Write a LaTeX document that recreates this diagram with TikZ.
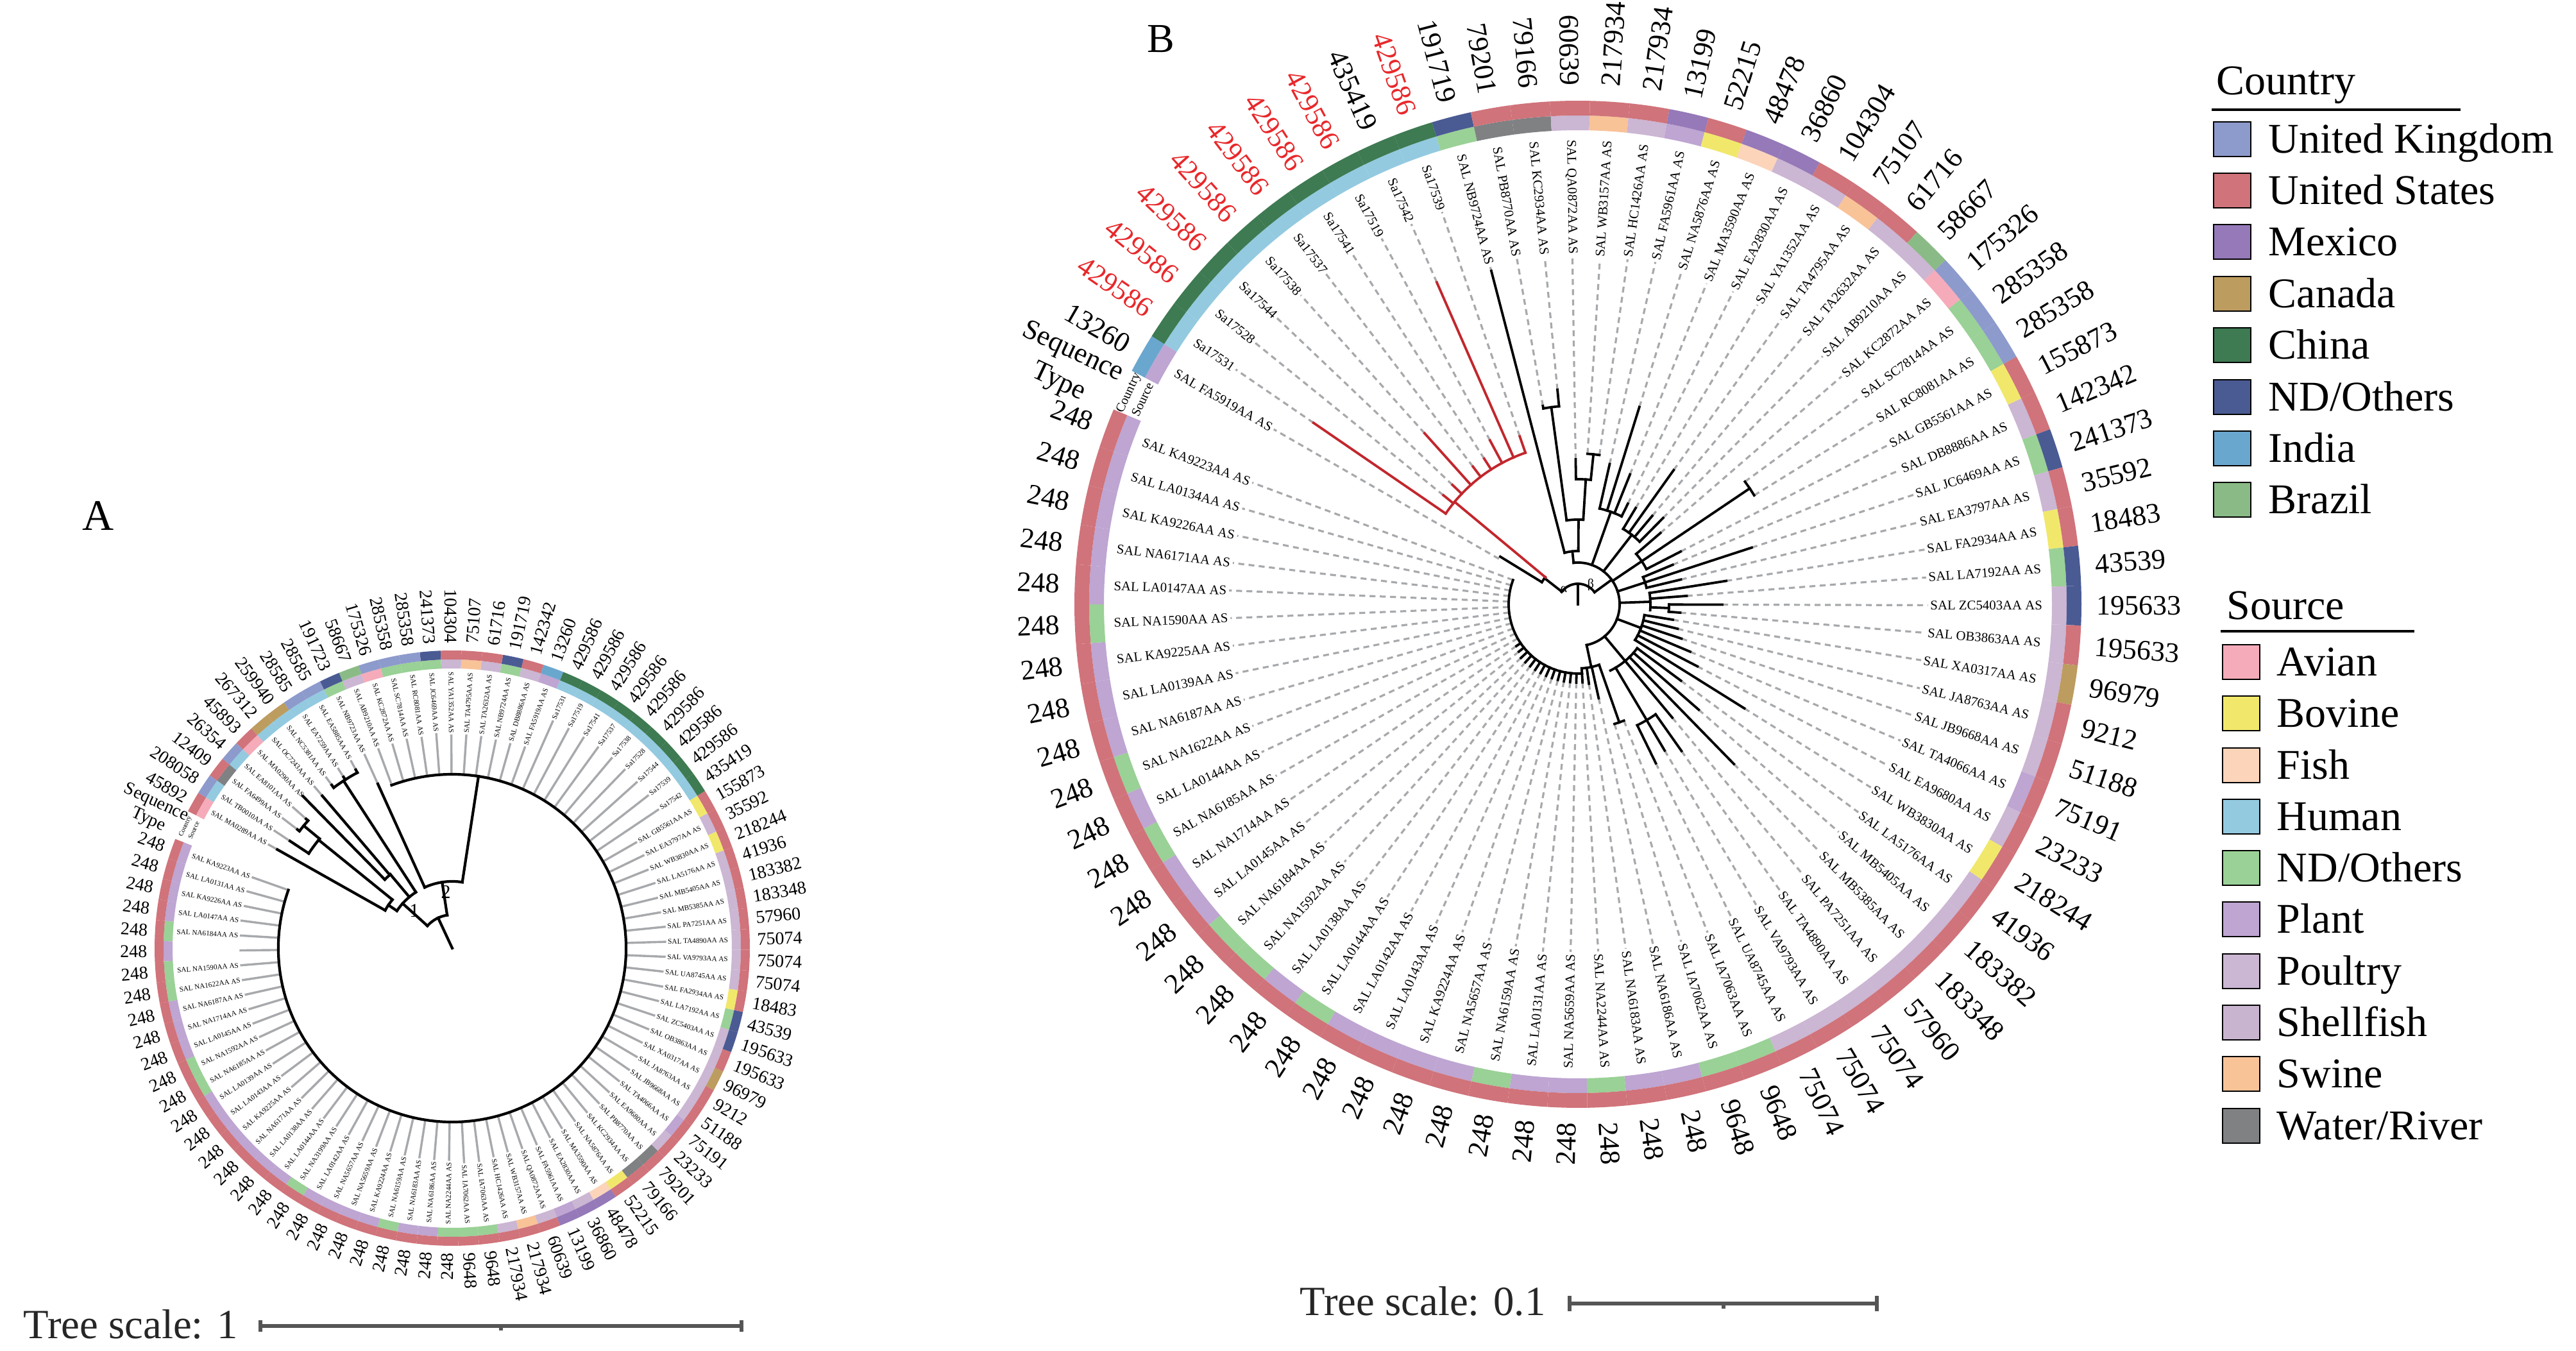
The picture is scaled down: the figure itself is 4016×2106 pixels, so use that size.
\documentclass[tikz,border=0pt]{standalone}
\usepackage{fontspec}
\setmainfont{Liberation Serif}
\definecolor{cUK}{HTML}{8D9ACC}
\definecolor{cUS}{HTML}{D0737A}
\definecolor{cMX}{HTML}{9579B8}
\definecolor{cCA}{HTML}{BD9C5F}
\definecolor{cCN}{HTML}{3E7A52}
\definecolor{cND}{HTML}{4A5A93}
\definecolor{cIN}{HTML}{6AA7CF}
\definecolor{cBR}{HTML}{8ABB86}
\definecolor{sAv}{HTML}{F5ABB9}
\definecolor{sBo}{HTML}{F1E86B}
\definecolor{sFi}{HTML}{FBD4BA}
\definecolor{sHu}{HTML}{93CAE0}
\definecolor{sNd}{HTML}{9AD196}
\definecolor{sPl}{HTML}{BEA5D2}
\definecolor{sPo}{HTML}{CBB6D3}
\definecolor{sSh}{HTML}{C9B4D0}
\definecolor{sSw}{HTML}{F9C398}
\definecolor{sWa}{HTML}{7F8183}
\definecolor{stred}{HTML}{E8282B}
\definecolor{treered}{HTML}{C1272D}
\definecolor{leafgray}{HTML}{A7A9AC}
\definecolor{scalegray}{HTML}{555555}
\newcommand\tbr[4][treeln]{\draw[#1] (#2:#3) -- (#2:#4);}
\newcommand\tarc[4][treeln]{\draw[#1] (#2:#4) arc[start angle=#2, end angle=#3, radius=#4];}
\newcommand\legitem[6]{\node[lbox,fill=#4] (#1) at (#2,#3) {}; \node[legtxt,anchor=west] (#1t) at (#5,#3) {#6};}
\begin{document}
\begin{tikzpicture}[x=0.25pt,y=0.25pt]
\tikzset{
 treeln/.style={line width=0.95pt, line cap=rect, black},
 treelnA/.style={line width=1.05pt, line cap=rect, black},
 redln/.style={line width=0.95pt, line cap=rect, treered},
 dashB/.style={leafgray, line width=0.8pt, dash pattern=on 2.3pt off 1.7pt},
 solidA/.style={leafgray, line width=0.85pt},
 leafB/.style={font=\fontsize{5.2}{6}\selectfont, inner sep=0.8pt},
 leafA/.style={font=\fontsize{2.8}{3.2}\selectfont, inner sep=0.5pt},
 stB/.style={font=\fontsize{11}{13}\selectfont, inner sep=0pt},
 stA/.style={font=\fontsize{7}{8}\selectfont, inner sep=0pt},
 lbox/.style={draw=black, line width=0.7pt, minimum width=14.5pt, minimum height=13.5pt, inner sep=0pt},
 legtxt/.style={font=\fontsize{16.5}{18}\selectfont, text height=10.9pt, text depth=0pt, inner sep=0pt},
 scalebar/.style={scalegray, line width=1.3pt},
 scaletxt/.style={font=\fontsize{16.2}{18}\selectfont, text=black!85, inner sep=0pt}
}
\fill[white] (0,0) rectangle (4016,2106);
\useasboundingbox (0,0) rectangle (4016,2106);

%%%%%%%%%%%%%%%% PANEL B %%%%%%%%%%%%%%%%
\begin{scope}[shift={(2460,1164)}]
\foreach \k/\nm/\st/\stc/\cc/\sc/\tip in {
1/SAL FA5919AA AS/13260/black/cIN/sPl/142,
2/Sa17531/429586/stred/cCN/sHu/500,
3/Sa17528/429586/stred/cCN/sHu/270,
4/Sa17544/429586/stred/cCN/sHu/270,
5/Sa17538/429586/stred/cCN/sHu/358,
6/Sa17537/429586/stred/cCN/sHu/270,
7/Sa17541/429586/stred/cCN/sHu/270,
8/Sa17519/429586/stred/cCN/sHu/290,
9/Sa17542/435419/black/cCN/sHu/548,
10/Sa17539/429586/stred/cCN/sHu/277,
11/SAL NB9724AA AS/191719/black/cND/sNd/537,
12/SAL PB8770AA AS/79201/black/cUS/sWa/314,
13/SAL KC2934AA AS/79166/black/cUS/sWa/336,
14/SAL QA0872AA AS/60639/black/cUS/sPo/226,
15/SAL WB3157AA AS/217934/black/cUS/sSw/235,
16/SAL HC1426AA AS/217934/black/cUS/sPo/235,
17/SAL FA5961AA AS/13199/black/cMX/sPl/224,
18/SAL NA5876AA AS/52215/black/cUS/sBo/322,
19/SAL MA3590AA AS/48478/black/cMX/sFi/218,
20/SAL EA2830AA AS/36860/black/cMX/sPo/175,
21/SAL YA1352AA AS/104304/black/cUS/sPo/175,
22/SAL TA4795AA AS/75107/black/cUS/sSw/257,
23/SAL TA2632AA AS/61716/black/cUS/sPo/180,
24/SAL AB9210AA AS/58667/black/cBR/sPo/189,
25/SAL KC2872AA AS/175326/black/cUK/sAv/170,
26/SAL SC7814AA AS/285358/black/cUK/sNd/323,
27/SAL RC8081AA AS/285358/black/cUK/sNd/323,
28/SAL GB5561AA AS/155873/black/cUS/sBo/180,
29/SAL DB8886AA AS/142342/black/cUS/sPo/160,
30/SAL JC6469AA AS/241373/black/cND/sNd/285,
31/SAL EA3797AA AS/35592/black/cUS/sPo/165,
32/SAL FA2934AA AS/18483/black/cUS/sBo/234,
33/SAL LA7192AA AS/43539/black/cND/sNd/170,
34/SAL ZC5403AA AS/195633/black/cND/sPo/225,
35/SAL OB3863AA AS/195633/black/cUS/sPo/160,
36/SAL XA0317AA AS/96979/black/cCA/sPo/150,
37/SAL JA8763AA AS/9212/black/cUS/sPo/160,
38/SAL JB9668AA AS/51188/black/cUS/sPo/170,
39/SAL TA4066AA AS/75191/black/cUS/sPl/190,
40/SAL EA9680AA AS/23233/black/cUS/sPo/210,
41/SAL WB3830AA AS/218244/black/cUS/sBo/306,
42/SAL LA5176AA AS/41936/black/cUS/sPo/200,
43/SAL MB5405AA AS/183382/black/cUS/sPo/250,
44/SAL MB5385AA AS/183348/black/cUS/sPo/348,
45/SAL PA7251AA AS/57960/black/cUS/sPo/230,
46/SAL TA4890AA AS/75074/black/cUS/sPo/280,
47/SAL VA9793AA AS/75074/black/cUS/sPo/265,
48/SAL UA8745AA AS/75074/black/cUS/sPo/276,
49/SAL IA7063AA AS/9648/black/cUS/sNd/195,
50/SAL IA7062AA AS/9648/black/cUS/sNd/195,
51/SAL NA6186AA AS/248/black/cUS/sPl/150,
52/SAL NA6183AA AS/248/black/cUS/sPl/125,
53/SAL NA2244AA AS/248/black/cUS/sNd/122,
54/SAL NA5659AA AS/248/black/cUS/sPl/122,
55/SAL LA0131AA AS/248/black/cUS/sPl/122,
56/SAL NA6159AA AS/248/black/cUS/sNd/122,
57/SAL NA5657AA AS/248/black/cUS/sPl/122,
58/SAL KA9224AA AS/248/black/cUS/sPl/122,
59/SAL LA0143AA AS/248/black/cUS/sPl/122,
60/SAL LA0142AA AS/248/black/cUS/sPl/122,
61/SAL LA0144AA AS/248/black/cUS/sNd/122,
62/SAL LA0138AA AS/248/black/cUS/sPl/122,
63/SAL NA1592AA AS/248/black/cUS/sNd/122,
64/SAL NA6184AA AS/248/black/cUS/sNd/122,
65/SAL LA0145AA AS/248/black/cUS/sPl/118,
66/SAL NA1714AA AS/248/black/cUS/sPl/116,
67/SAL NA6185AA AS/248/black/cUS/sNd/108,
68/SAL LA0144AA AS/248/black/cUS/sPl/108,
69/SAL NA1622AA AS/248/black/cUS/sNd/108,
70/SAL NA6187AA AS/248/black/cUS/sPl/108,
71/SAL LA0139AA AS/248/black/cUS/sPl/108,
72/SAL KA9225AA AS/248/black/cUS/sPl/108,
73/SAL NA1590AA AS/248/black/cUS/sNd/108,
74/SAL LA0147AA AS/248/black/cUS/sPl/108,
75/SAL NA6171AA AS/248/black/cUS/sPl/108,
76/SAL KA9226AA AS/248/black/cUS/sPl/108,
77/SAL LA0134AA AS/248/black/cUS/sPl/108,
78/SAL KA9223AA AS/248/black/cUS/sPl/108}{
 \pgfmathsetmacro\ang{150.1-(\k-1)*4.553}
 \pgfmathsetmacro\aL{\ang-2.2765}
 \pgfmathsetmacro\aR{\ang+2.2765}
 \fill[\sc] (\aL:739) arc[start angle=\aL, end angle=\aR, radius=739] -- (\aR:762) arc[start angle=\aR, end angle=\aL, radius=762] -- cycle;
 \fill[\cc] (\aL:762) arc[start angle=\aL, end angle=\aR, radius=762] -- (\aR:785) arc[start angle=\aR, end angle=\aL, radius=785] -- cycle;
 \pgfmathtruncatemacro\rside{cos(\ang)>0 ? 1 : 0}
 \ifnum\rside=1
   \node[leafB, anchor=east, rotate=\ang] (BL\k) at (\ang:728) {\nm};
   \draw[dashB] (\ang:\tip) -- (BL\k.west);
   \node[stB, text=\stc, anchor=west, rotate=\ang] (BS\k) at (\ang:808) {\st};
 \else
   \pgfmathsetmacro\rot{\ang+180}
   \node[leafB, anchor=west, rotate=\rot] (BL\k) at (\ang:728) {\nm};
   \draw[dashB] (\ang:\tip) -- (BL\k.east);
   \node[stB, text=\stc, anchor=east, rotate=\rot] (BS\k) at (\ang:808) {\st};
 \fi
}
% gap labels
\node[font=\fontsize{5}{6}\selectfont, inner sep=0pt, rotate=64.8] (BCty) at (154.8:773.5) {Country};
\node[font=\fontsize{5}{6}\selectfont, inner sep=0pt, rotate=64.8] (BSrc) at (154.8:750.5) {Source};
\node[stB, align=center, rotate=334.8] (BSeq) at (155.2:880) {Sequence\\Type};
% root
\tbr{90}{0}{32}
\tarc{36}{143}{32}
\node[font=\fontsize{5}{6}\selectfont, inner sep=0pt] (Balpha) at (-22,23) {α};
\node[font=\fontsize{5}{6}\selectfont, inner sep=0pt] (Bbeta) at (20,30) {β};
% alpha clade
\tbr{142}{32}{66}
\tarc{140.3}{148.5}{66}
\tbr{148.5}{66}{142}
\tbr[redln]{140.3}{66}{250}
\tarc[redln]{109.12}{145.55}{250}
\tbr[redln]{145.55}{250}{500}
\tbr[redln]{140.99}{250}{270}
\tbr[redln]{136.44}{250}{270}
\tbr[redln]{131.89}{250}{358}
\tbr[redln]{127.34}{250}{270}
\tbr[redln]{122.78}{250}{270}
\tbr[redln]{118.23}{250}{290}
\tbr[redln]{113.68}{250}{548}
\tbr[redln]{109.12}{250}{277}
% beta clade
\tbr{36}{32}{65}
\tarc{-78}{96}{65}
% C1
\tbr{96}{65}{83}
\tarc{89.6}{104.57}{83}
\tbr{104.57}{83}{537}
\tbr{89.6}{83}{132}
\tarc{86.4}{97.7}{132}
\tbr{97.7}{132}{310}
\tarc{95.46}{100.02}{310}
\tbr{100.02}{310}{314}
\tbr{95.46}{310}{336}
\tbr{86.4}{132}{195}
\tarc{84.1}{90.91}{195}
\tbr{90.91}{195}{226}
\tbr{84.1}{195}{235}
\tarc{81.81}{86.36}{235}
% C2
\tbr{70.4}{65}{153}
\tarc{63.59}{77.25}{153}
\tbr{77.25}{153}{224}
\tbr{72.70}{153}{322}
\tbr{68.15}{153}{218}
\tbr{63.59}{153}{175}
% C3
\tbr{52.2}{65}{137}
\tarc{45.38}{59.04}{137}
\tbr{59.04}{137}{175}
\tbr{54.49}{137}{257}
\tbr{49.94}{137}{180}
\tbr{45.38}{137}{189}
% C4
\tbr{34}{65}{120}
\tarc{27.17}{40.83}{120}
\tbr{40.83}{120}{170}
\tbr{34}{120}{323}
\tarc{31.72}{36.28}{323}
\tbr{27.17}{120}{180}
% C5
\tbr{18}{65}{110}
\tarc{13.51}{22.62}{110}
\tbr{22.62}{110}{160}
\tbr{18.06}{110}{285}
\tbr{13.51}{110}{165}
% C6
\tbr{2}{65}{113}
\tarc{-4.70}{8.96}{113}
\tbr{8.96}{113}{234}
\tbr{4.41}{113}{170}
\tbr{-2.4}{113}{142}
\tarc{-4.70}{-0.15}{142}
\tbr{-0.15}{142}{225}
\tbr{-4.70}{142}{160}
% C7
\tbr{-20.6}{65}{105}
\tarc{-32.02}{-9.25}{105}
\tbr{-9.25}{105}{150}
\tbr{-13.80}{105}{160}
\tbr{-18.36}{105}{170}
\tbr{-22.91}{105}{190}
\tbr{-27.46}{105}{210}
\tbr{-32.02}{105}{306}
% C8
\tbr{-50.2}{65}{115}
\tarc{-63.89}{-36.57}{115}
\tbr{-36.57}{115}{200}
\tbr{-41.12}{115}{250}
\tbr{-45.68}{115}{348}
\tbr{-50.23}{115}{230}
\tbr{-59.3}{115}{210}
\tarc{-63.89}{-54.78}{210}
\tbr{-54.78}{210}{280}
\tbr{-59.33}{210}{265}
\tbr{-63.89}{210}{276}
% C9 (ST 248 clade)
\tbr{-78}{65}{100}
\tarc{-86.65}{-70.7}{100}
\tbr{-70.7}{100}{195}
\tarc{-72.99}{-68.44}{195}
\tbr{-77.55}{100}{150}
\tbr{-82.10}{100}{125}
\tbr{-86.65}{100}{108}
\tarc{-200.47}{-86.65}{108}
\foreach \a in {-86.65,-91.20,-95.76,-100.31,-104.86,-109.42,-113.97,-118.52,-123.07,-127.63,-132.18,-136.73}{\tbr{\a}{108}{122}}
\tbr{-141.29}{108}{118}
\tbr{-145.84}{108}{116}
\end{scope}

%%%%%%%%%%%%%%%% PANEL A %%%%%%%%%%%%%%%%
\begin{scope}[shift={(705,628)}]
\foreach \k/\nm/\st/\cc/\sc/\tip in {
1/SAL KA9223AA AS/248/cUS/sPl/271,
2/SAL LA0131AA AS/248/cUS/sPl/271,
3/SAL KA9226AA AS/248/cUS/sPl/271,
4/SAL LA0147AA AS/248/cUS/sPl/271,
5/SAL NA6184AA AS/248/cUS/sNd/271,
6/\phantom{SAL NA6184AA AS}/248/cUS/sPl/271,
7/SAL NA1590AA AS/248/cUS/sNd/271,
8/SAL NA1622AA AS/248/cUS/sNd/271,
9/SAL NA6187AA AS/248/cUS/sPl/271,
10/SAL NA1714AA AS/248/cUS/sPl/271,
11/SAL LA0145AA AS/248/cUS/sPl/271,
12/SAL NA1592AA AS/248/cUS/sNd/271,
13/SAL NA6185AA AS/248/cUS/sNd/271,
14/SAL LA0139AA AS/248/cUS/sPl/271,
15/SAL LA0143AA AS/248/cUS/sPl/271,
16/SAL KA9225AA AS/248/cUS/sPl/271,
17/SAL NA6171AA AS/248/cUS/sPl/271,
18/SAL LA0138AA AS/248/cUS/sPl/271,
19/SAL LA0144AA AS/248/cUS/sPl/271,
20/SAL NA3199AA AS/248/cUS/sNd/271,
21/SAL LA0142AA AS/248/cUS/sPl/271,
22/SAL NA5657AA AS/248/cUS/sPl/271,
23/SAL NA5659AA AS/248/cUS/sPl/271,
24/SAL KA9224AA AS/248/cUS/sPl/271,
25/SAL NA6159AA AS/248/cUS/sNd/271,
26/SAL NA6183AA AS/248/cUS/sPl/271,
27/SAL NA6186AA AS/248/cUS/sPl/271,
28/SAL NA2244AA AS/248/cUS/sNd/271,
29/SAL IA7062AA AS/9648/cUS/sNd/271,
30/SAL IA7063AA AS/9648/cUS/sNd/271,
31/SAL HC1426AA AS/217934/cUS/sPo/271,
32/SAL WB3157AA AS/217934/cUS/sSw/271,
33/SAL QA0872AA AS/60639/cUS/sPo/271,
34/SAL FA5961AA AS/13199/cMX/sPl/271,
35/SAL EA2830AA AS/36860/cMX/sPo/271,
36/SAL MA3590AA AS/48478/cMX/sFi/271,
37/SAL NA5876AA AS/52215/cUS/sBo/271,
38/SAL KC2934AA AS/79166/cUS/sWa/271,
39/SAL PB8770AA AS/79201/cUS/sWa/271,
40/SAL EA9680AA AS/23233/cUS/sPo/271,
41/SAL TA4066AA AS/75191/cUS/sPl/271,
42/SAL JB9668AA AS/51188/cUS/sPo/271,
43/SAL JA8763AA AS/9212/cUS/sPo/271,
44/SAL XA0317AA AS/96979/cCA/sPo/271,
45/SAL OB3863AA AS/195633/cUS/sPo/271,
46/SAL ZC5403AA AS/195633/cND/sPo/271,
47/SAL LA7192AA AS/43539/cND/sNd/271,
48/SAL FA2934AA AS/18483/cUS/sBo/271,
49/SAL UA8745AA AS/75074/cUS/sPo/271,
50/SAL VA9793AA AS/75074/cUS/sPo/271,
51/SAL TA4890AA AS/75074/cUS/sPo/271,
52/SAL PA7251AA AS/57960/cUS/sPo/271,
53/SAL MB5385AA AS/183348/cUS/sPo/271,
54/SAL MB5405AA AS/183382/cUS/sPo/271,
55/SAL LA5176AA AS/41936/cUS/sPo/271,
56/SAL WB3830AA AS/218244/cUS/sBo/271,
57/SAL EA3797AA AS/35592/cUS/sPo/271,
58/SAL GB5561AA AS/155873/cUS/sBo/271,
59/Sa17542/435419/cCN/sHu/271,
60/Sa17539/429586/cCN/sHu/271,
61/Sa17544/429586/cCN/sHu/271,
62/Sa17528/429586/cCN/sHu/271,
63/Sa17538/429586/cCN/sHu/271,
64/Sa17537/429586/cCN/sHu/271,
65/Sa17541/429586/cCN/sHu/271,
66/Sa17519/429586/cCN/sHu/271,
67/Sa17531/429586/cCN/sHu/271,
68/SAL FA5919AA AS/13260/cIN/sPl/271,
69/SAL DB8886AA AS/142342/cUS/sPo/271,
70/SAL NB9724AA AS/191719/cND/sNd/271,
71/SAL TA2632AA AS/61716/cUS/sPo/271,
72/SAL TA4795AA AS/75107/cUS/sSw/271,
73/SAL YA1352AA AS/104304/cUS/sPo/271,
74/SAL JC6469AA AS/241373/cND/sNd/271,
75/SAL RC8081AA AS/285358/cUK/sNd/271,
76/SAL SC7814AA AS/285358/cUK/sNd/271,
77/SAL KC2872AA AS/175326/cUK/sAv/271,
78/SAL AB9210AA AS/58667/cBR/sPo/271,
79/SAL NB9723AA AS/191723/cND/sNd/281,
80/SAL EA5885AA AS/28585/cUK/sHu/316,
81/SAL EA7259AA AS/28585/cUK/sHu/316,
82/SAL NC5381AA AS/259940/cCA/sHu/316,
83/SAL OC7243AA AS/267312/cCA/sHu/312,
84/SAL MA0290AA AS/45893/cUS/sAv/332,
85/SAL EA8101AA AS/26354/cUK/sHu/304,
86/SAL FA6499AA AS/12409/cUS/sWa/304,
87/SAL TB0010AA AS/208058/cUK/sHu/303,
88/SAL MA0289AA AS/45892/cUS/sAv/313}{
 \pgfmathsetmacro\ang{160.5+(\k-1)*4.024}
 \pgfmathsetmacro\aL{\ang-2.012}
 \pgfmathsetmacro\aR{\ang+2.012}
 \fill[\sc] (\aL:436) arc[start angle=\aL, end angle=\aR, radius=436] -- (\aR:450) arc[start angle=\aR, end angle=\aL, radius=450] -- cycle;
 \fill[\cc] (\aL:450) arc[start angle=\aL, end angle=\aR, radius=450] -- (\aR:464) arc[start angle=\aR, end angle=\aL, radius=464] -- cycle;
 \pgfmathtruncatemacro\rside{cos(\ang)>0 ? 1 : 0}
 \ifnum\rside=1
   \node[leafA, anchor=east, rotate=\ang] (AL\k) at (\ang:433) {\nm};
   \draw[solidA] (\ang:\tip) -- (AL\k.west);
   \node[stA, anchor=west, rotate=\ang] (AS\k) at (\ang:475) {\st};
 \else
   \pgfmathsetmacro\rot{\ang+180}
   \node[leafA, anchor=west, rotate=\rot] (AL\k) at (\ang:433) {\nm};
   \draw[solidA] (\ang:\tip) -- (AL\k.east);
   \node[stA, anchor=east, rotate=\rot] (AS\k) at (\ang:475) {\st};
 \fi
}
\node[font=\fontsize{2.6}{3}\selectfont, inner sep=0pt, rotate=65.5] (ACty) at (155.5:457) {Country};
\node[font=\fontsize{2.6}{3}\selectfont, inner sep=0pt, rotate=65.5] (ASrc) at (155.5:443) {Source};
\node[font=\fontsize{7}{7.3}\selectfont, inner sep=0pt, align=center, rotate=335.5] (ASeq) at (155.5:514) {Sequence\\Type};
% tree: root and node 1
\tbr[treelnA]{115}{0}{52}
\tarc[treelnA]{98.7}{138}{52}
% clade 2
\tbr[treelnA]{98.7}{52}{104}
\tarc[treelnA]{81.3}{114.37}{104}
\tbr[treelnA]{114.37}{104}{281}
\tbr[treelnA]{81.3}{104}{271}
\tarc[treelnA]{-199.5}{110.4}{271}
% outgroup
\tbr[treelnA]{138}{52}{104}
\tarc[treelnA]{123}{146}{104}
\tbr[treelnA]{123}{104}{311}
\tarc[treelnA]{118.4}{126.45}{311}
\tbr[treelnA]{118.4}{311}{316}
\tbr[treelnA]{122.42}{311}{316}
\tbr[treelnA]{126.45}{311}{316}
\tbr[treelnA]{130}{104}{150}
\tarc[treelnA]{130}{134.5}{150}
\tbr[treelnA]{130.47}{150}{312}
\tbr[treelnA]{134.5}{150}{332}
\tbr[treelnA]{146}{104}{120}
\tarc[treelnA]{141}{150.59}{120}
\tbr[treelnA]{150.59}{120}{313}
\tbr[treelnA]{141}{120}{268}
\tarc[treelnA]{140.5}{146.57}{268}
\tbr[treelnA]{140.5}{268}{300}
\tarc[treelnA]{138.52}{142.54}{300}
\tbr[treelnA]{138.52}{300}{304}
\tbr[treelnA]{142.54}{300}{304}
\tbr[treelnA]{146.57}{268}{303}
\node[font=\fontsize{7.5}{8}\selectfont, inner sep=0pt] (Aone) at (135.5:83) {1};
\node[font=\fontsize{7.5}{8}\selectfont, inner sep=0pt] (Atwo) at (96.5:88) {2};
\end{scope}

%%%%%%%%%%%%%%%% panel letters %%%%%%%%%%%%%%%%
\node[font=\fontsize{17}{20}\selectfont, inner sep=0pt] (PA) at (153,1302) {A};
\node[font=\fontsize{16}{19}\selectfont, inner sep=0pt] (PB) at (1810,2045) {B};

%%%%%%%%%%%%%%%% scale bars %%%%%%%%%%%%%%%%
\node[scaletxt, anchor=west] (TSA) at (36,42) {Tree scale: 1};
\coordinate (SAa) at (406,39); \coordinate (SAb) at (1156,39); \coordinate (SAm) at (781,39);
\draw[scalebar] (SAa) -- (SAb);
\draw[scalebar] ([yshift=-2.3pt]SAa) -- ([yshift=2.3pt]SAa);
\draw[scalebar] ([yshift=-2.3pt]SAb) -- ([yshift=2.3pt]SAb);
\draw[scalebar] (SAm) -- ([yshift=-1.8pt]SAm);
\node[scaletxt, anchor=west] (TSB) at (2026,78) {Tree scale: 0.1};
\coordinate (SBa) at (2447,74); \coordinate (SBb) at (2926,74); \coordinate (SBm) at (2687,74);
\draw[scalebar] (SBa) -- (SBb);
\draw[scalebar] ([yshift=-3pt]SBa) -- ([yshift=3pt]SBa);
\draw[scalebar] ([yshift=-3pt]SBb) -- ([yshift=3pt]SBb);
\draw[scalebar] (SBm) -- ([yshift=-2pt]SBm);

%%%%%%%%%%%%%%%% legend %%%%%%%%%%%%%%%%
\node[legtxt, anchor=west] (LgC) at (3455,1980) {Country};
\draw[line width=0.8pt] (3448,1935) -- (3836,1935);
\legitem{lc1}{3480}{1889}{cUK}{3536}{United Kingdom}
\legitem{lc2}{3480}{1809}{cUS}{3536}{United States}
\legitem{lc3}{3480}{1729}{cMX}{3536}{Mexico}
\legitem{lc4}{3480}{1648}{cCA}{3536}{Canada}
\legitem{lc5}{3480}{1568}{cCN}{3536}{China}
\legitem{lc6}{3480}{1487}{cND}{3536}{ND/Others}
\legitem{lc7}{3480}{1407}{cIN}{3536}{India}
\legitem{lc8}{3480}{1327}{cBR}{3536}{Brazil}
\node[legtxt, anchor=west] (LgS) at (3471,1162) {Source};
\draw[line width=0.8pt] (3462,1122) -- (3764,1122);
\legitem{ls1}{3494}{1074}{sAv}{3549}{Avian}
\legitem{ls2}{3494}{994}{sBo}{3549}{Bovine}
\legitem{ls3}{3494}{913}{sFi}{3549}{Fish}
\legitem{ls4}{3494}{833}{sHu}{3549}{Human}
\legitem{ls5}{3494}{753}{sNd}{3549}{ND/Others}
\legitem{ls6}{3494}{673}{sPl}{3549}{Plant}
\legitem{ls7}{3494}{592}{sPo}{3549}{Poultry}
\legitem{ls8}{3494}{512}{sSh}{3549}{Shellfish}
\legitem{ls9}{3494}{432}{sSw}{3549}{Swine}
\legitem{ls10}{3494}{351}{sWa}{3549}{Water/River}
\end{tikzpicture}
\end{document}
